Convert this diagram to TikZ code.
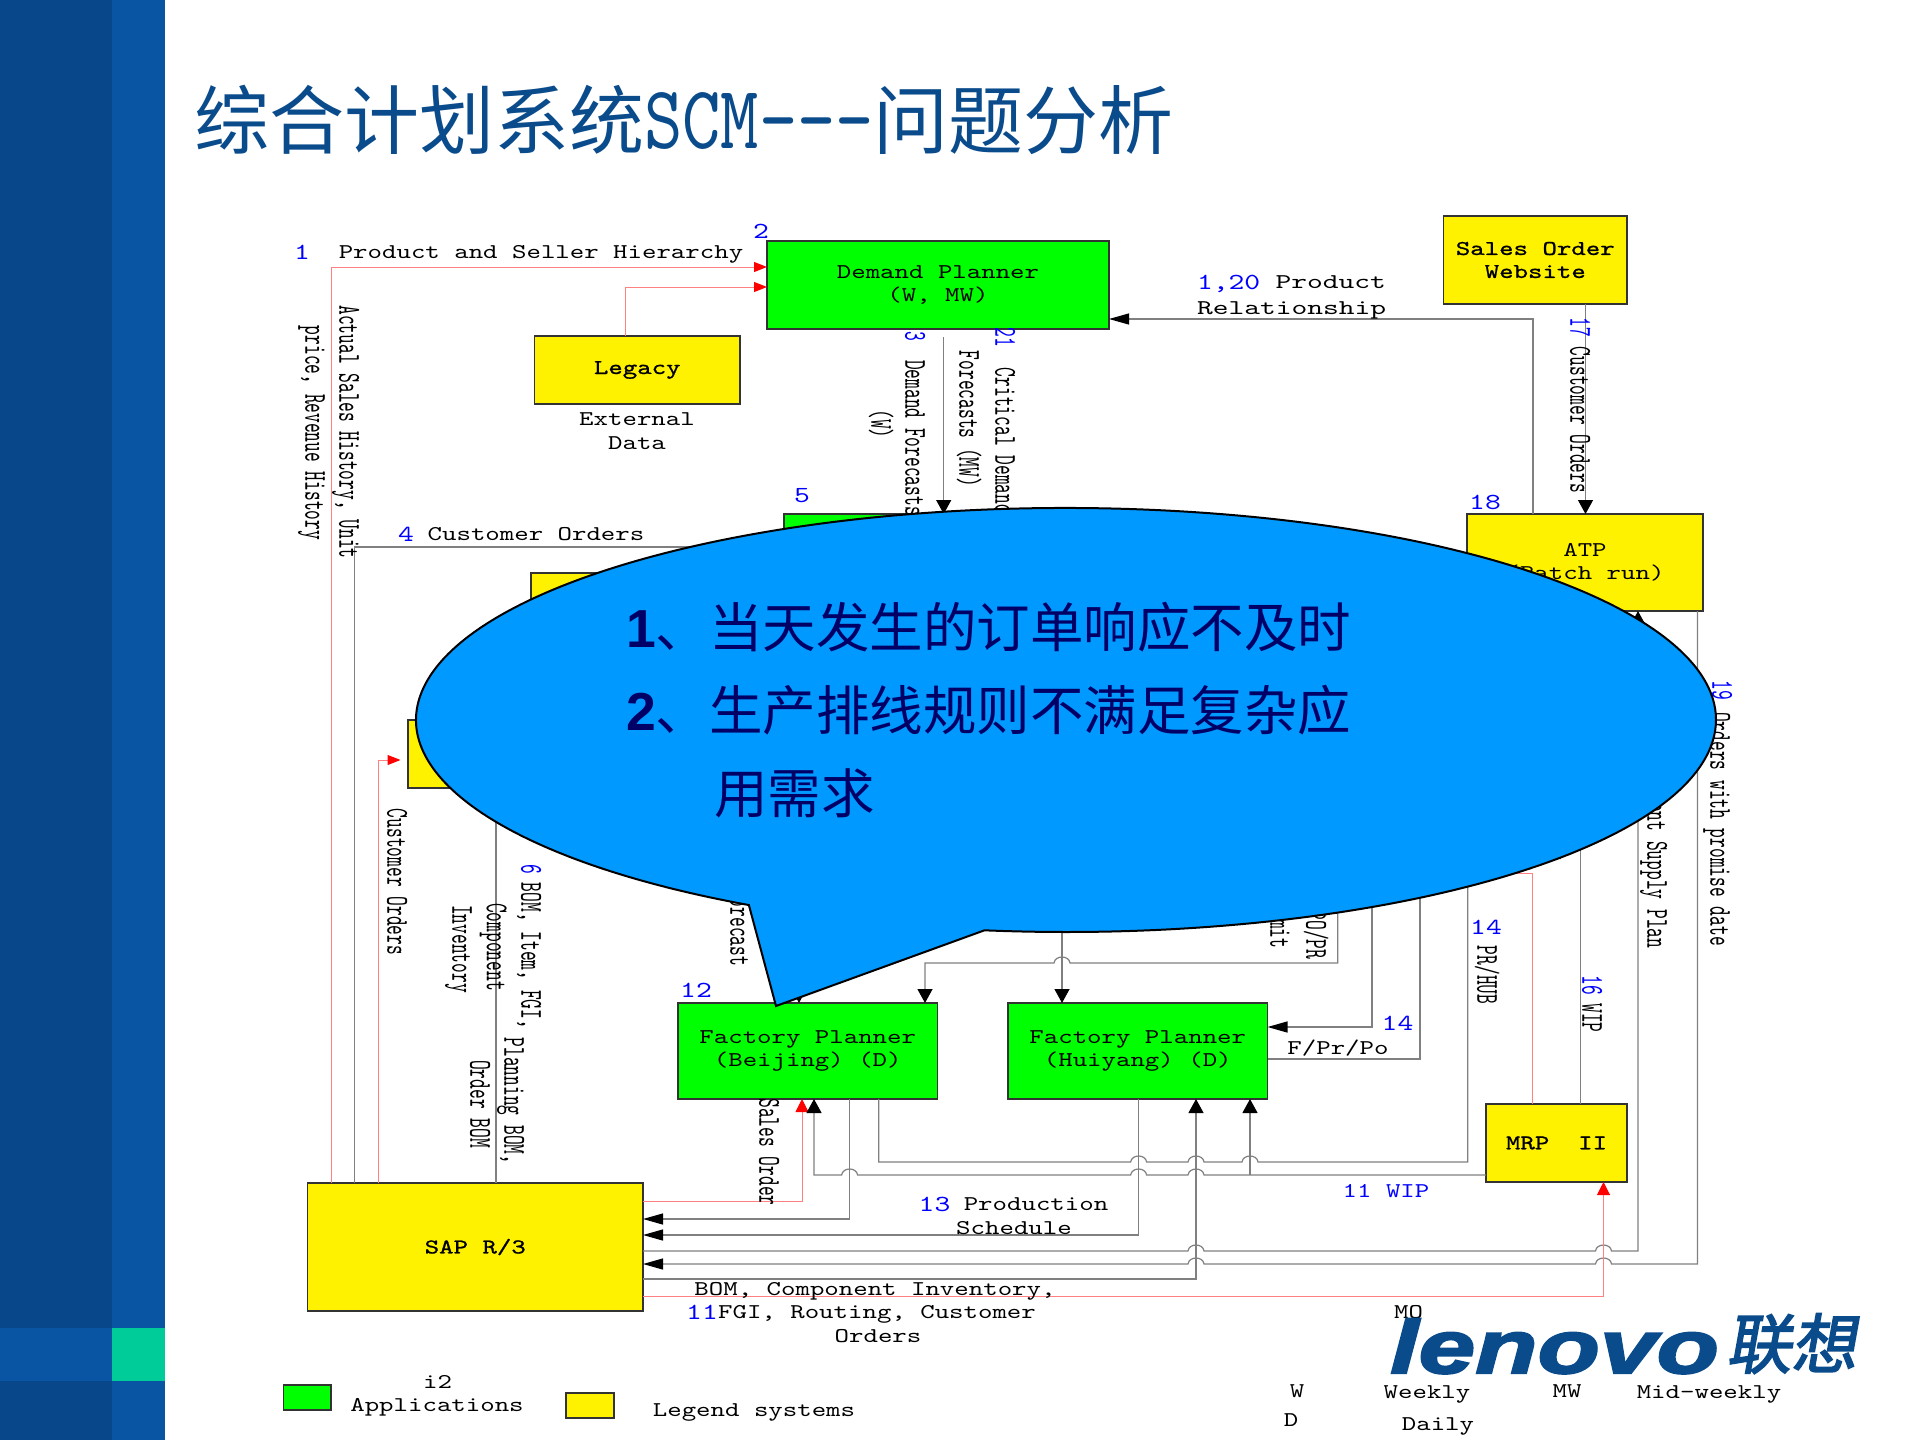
\documentclass[tikz,border=0pt]{standalone}
\usepackage{fontspec}
\usetikzlibrary{arrows.meta}
\setmainfont{Liberation Sans}
\newfontfamily\dgHf[FakeStretch=1.31]{lmmono10-regular.otf}
\newfontfamily\dgHwf[FakeStretch=1.43]{lmmono10-regular.otf}
\newfontfamily\dgHbf[FakeStretch=1.31,FakeBold=1]{lmmono10-regular.otf}
\newfontfamily\dgVf[FakeStretch=0.58]{lmmono10-regular.otf}
\newfontfamily\ttlLat[FakeStretch=0.81]{lmmono10-regular.otf}
\newfontfamily\cjkf{Noto Sans CJK SC}
\newfontfamily\logoLat[FakeStretch=1.36,FakeBold=3]{Liberation Sans Bold Italic}
\newfontfamily\logoCjk[FakeSlant=0.18,FakeBold=2.5]{Noto Sans CJK SC}
\newcommand{\fH}{\dgHf\fontsize{21}{23}\selectfont}
\newcommand{\fHw}{\dgHwf\fontsize{21}{23}\selectfont}
\newcommand{\fHb}{\dgHbf\fontsize{21}{23}\selectfont}
\newcommand{\fN}{\dgHf\fontsize{23}{25}\selectfont}
\newcommand{\fV}{\dgVf\fontsize{32}{34}\selectfont}
\definecolor{panelA}{HTML}{08488A}
\definecolor{panelB}{HTML}{0A55A3}
\definecolor{panelC}{HTML}{00CC99}
\definecolor{ttl}{HTML}{0A4B8C}
\definecolor{gln}{HTML}{808080}
\definecolor{pnk}{HTML}{FF8080}
\definecolor{bubble}{HTML}{0099FF}
\definecolor{navy}{HTML}{000066}
% jump over a crossing line, going left / going right
\newcommand{\jl}[2]{-- ({#1+8},#2) .. controls ({#1+7},{#2-8}) and ({#1-7},{#2-8}) .. ({#1-8},#2)}
\newcommand{\jr}[2]{-- ({#1-8},#2) .. controls ({#1-7},{#2-8}) and ({#1+7},{#2-8}) .. ({#1+8},#2)}
\tikzset{
  box/.style={draw=black!80,line width=1.6pt,inner sep=0pt,outer sep=0pt,align=center,font=\fH},
  gbox/.style={box,fill=green},
  ybox/.style={box,fill=yellow},
  lbl/.style={inner sep=0pt,outer sep=0pt,font=\fH,text height=13pt,text depth=0pt},
  vlbl/.style={inner sep=0pt,outer sep=0pt,font=\fV,rotate=-90,text height=19.5pt,text depth=0pt},
  num/.style={lbl,text=blue,font=\fN,text height=14pt},
  vnum/.style={vlbl,text=blue},
  gline/.style={draw=gln,line width=1.2pt},
  pline/.style={draw=pnk,line width=1pt},
  arrH/.style={-{Triangle[length=20pt,width=11pt,color=black]}},
  arrV/.style={-{Triangle[length=14pt,width=15pt,color=black]}},
  redH/.style={-{Triangle[length=13pt,width=10pt,color=red]}},
  redV/.style={-{Triangle[length=13pt,width=13pt,color=red]}},
}
\begin{document}
\begin{tikzpicture}[x=1pt,y=-1pt]
\useasboundingbox (0,0) rectangle (1920,1440);
% side panels
\fill[panelA] (0,0) rectangle (112,1440);
\fill[panelB] (112,0) rectangle (165,1440);
\fill[panelB] (0,1328) rectangle (112,1381);
\fill[panelC] (112,1328) rectangle (165,1381);
% title
\node[inner sep=0pt,anchor=base west,text=ttl] (title) at (194,148.5)
  {\cjkf\fontsize{75}{80}\selectfont 综合计划系统{\ttlLat\fontsize{90}{90}\selectfont SCM---}问题分析};
% boxes
\node[gbox,minimum width=342pt,minimum height=88pt] (dp) at (938,285) {Demand Planner\\(W,  MW)};
\node[ybox,minimum width=205.5pt,minimum height=68pt,font=\fHb] (legacy) at (637.25,370) {Legacy};
\node[ybox,minimum width=183.5pt,minimum height=88pt,font=\fHb] (so) at (1535.25,260) {Sales Order\\Website};
\node[ybox,minimum width=236pt,minimum height=97pt] (atp) at (1585,562.5) {ATP\\(Batch run)};
\node[gbox,minimum width=216pt,minimum height=86pt] (five) at (892,557) {};
\node[ybox,minimum width=169pt,minimum height=77pt] (ybtwo) at (615.5,611.5) {};
\node[ybox,minimum width=92pt,minimum height=68pt] (ybthree) at (454,754) {};
\node[gbox,minimum width=259.5pt,minimum height=96pt] (fpb) at (807.75,1051) {Factory Planner\\(Beijing)  (D)};
\node[gbox,minimum width=259.5pt,minimum height=96pt] (fph) at (1137.75,1051) {Factory Planner\\(Huiyang)  (D)};
\node[ybox,minimum width=141pt,minimum height=78pt,font=\fHb] (mrp) at (1556.5,1143) {MRP~~II};
\node[ybox,minimum width=335.5pt,minimum height=128pt,font=\fHb] (sap) at (475.25,1247) {SAP R/3};
\node[gbox,minimum width=47.5pt,minimum height=25pt] (lgg) at (307.25,1397.5) {};
\node[ybox,minimum width=48pt,minimum height=25pt] (lgy) at (590,1405.5) {};
% free ends under the callout
\coordinate (hA) at (700,547);
\coordinate (hB) at (496,820);
\coordinate (hC) at (1062,900);
\coordinate (hD) at (1337.7,900);
\coordinate (hE) at (1372,880);
\coordinate (hF) at (1420,880);
\coordinate (hG) at (1467.7,860);
\coordinate (hH) at (1490,873);
\coordinate (hI) at (1580.7,820);
\coordinate (hJ) at (799,900);
\coordinate (hK) at (1560,820);
% connectors
\draw[pline,redH] (sap.north -| 331,0) |- (dp.west |- 0,267);
\draw[pline,redH] (legacy.north -| 625,0) |- (dp.west |- 0,287);
\draw[pline,redH] (sap.north -| 378,0) |- (400.5,760);
\draw[gline] (sap.north -| 354.5,0) |- (hA);
\draw[gline] (sap.north -| 496,0) -- (hB);
\draw[gline,arrV,shorten <=8pt] (dp.south -| 943.7,0) -- (five.north -| 943.7,0);
\draw[gline,arrH] (atp.north -| 1533,0) |- (dp.east |- 0,319);
\draw[gline,arrV] (so.south -| 1585.5,0) -- (atp.north -| 1585.5,0);
\draw[gline,arrH] (atp.south -| 1697.5,0) -- (1697.5,1264) \jl{1603.5}{1264} \jl{1196}{1264} -- (sap.east |- 0,1264);
\draw[gline,arrV] (sap.east |- 0,1251) \jr{1196}{1251} \jr{1603.5}{1251} -- (1638,1251) -- (atp.south -| 1638,0);
\draw[gline,arrV] (sap.east |- 0,1279) -| (fph.south -| 1196,0);
\draw[gline,arrH] (fph.south -| 1138.6,0) |- (sap.east |- 0,1235);
\draw[gline,arrH] (fpb.south -| 849.6,0) |- (sap.east |- 0,1219);
\draw[pline,redV] (sap.east |- 0,1201) -| (fpb.south -| 802,0);
\draw[pline,redV] (sap.east |- 0,1296) -| (mrp.south -| 1603.5,0);
\draw[gline] (fpb.south -| 878.7,0) -- (878.7,1162) \jr{1138.6}{1162} \jr{1196}{1162} \jr{1250}{1162} -- (1467.7,1162) -- (hG);
\draw[gline,arrV] (mrp.west |- 0,1175) \jl{1196}{1175} \jl{1138.6}{1175} \jl{849.6}{1175} -- (814,1175) -- (fpb.south -| 814,0);
\draw[gline,arrV] (1250,1175) -- (fph.south -| 1250,0);
\draw[gline,arrV] (hC) -- (fph.north -| 1062,0);
\draw[gline,arrV] (hD) -- (1337.7,963) \jl{1062}{963} -- (925,963) -- (fpb.north -| 925,0);
\draw[gline,arrH] (hE) |- (fph.east |- 0,1027);
\draw[gline] (hF) |- (fph.east |- 0,1059);
\draw[pline] (mrp.north -| 1532.5,0) |- (hH);
\draw[gline] (mrp.north -| 1580.7,0) -- (hI);
\draw[gline,arrV] (hJ) -- (fpb.north -| 799,0);
\draw[gline,arrV] (hK) -- (1560,859.5);
% horizontal labels
\node[num] (n1) at (302,252) {1};
\node[lbl] (t1) at (541,252) {Product and Seller Hierarchy};
\node[num] (n2) at (761,231) {2};
\node[lbl] (t2a) at (637,419) {External};
\node[lbl] (t2b) at (637,443) {Data};
\node[num] (n4) at (406,534) {4};
\node[lbl] (t4) at (536,534) {Customer Orders};
\node[num] (n5) at (802,495) {5};
\node[num,anchor=west] (n120) at (1197,282) {1,20};
\node[lbl,anchor=east,font=\fHw] (t120a) at (1386,282) {Product};
\node[lbl,anchor=west,font=\fHw] (t120b) at (1197,308) {Relationship};
\node[num] (n18) at (1485,502) {18};
\node[num] (n12) at (696,990) {12};
\node[num] (n14b) at (1486,927) {14};
\node[num] (n14a) at (1397.5,1023) {14};
\node[lbl] (tfpp) at (1338,1048) {F/Pr/Po};
\node[num] (n13) at (934.5,1204) {13};
\node[lbl] (t13a) at (1036,1204) {Production};
\node[lbl] (t13b) at (1014,1228) {Schedule};
\node[lbl,text=blue] (n11w) at (1386,1191) {11 WIP};
\node[lbl] (tbom) at (875,1289) {BOM, Component Inventory,};
\node[num] (n11) at (702,1312) {11};
\node[lbl] (tfgi) at (877,1312) {FGI, Routing, Customer};
\node[lbl] (tord) at (878,1336) {Orders};
\node[lbl] (li2) at (437.5,1382) {i2};
\node[lbl] (lapp) at (437,1405) {Applications};
\node[lbl] (lleg) at (754,1410) {Legend systems};
\node[lbl] (lmo) at (1408.5,1312) {MO};
\node[lbl] (lw) at (1297,1391) {W};
\node[lbl] (lwk) at (1427,1392) {Weekly};
\node[lbl] (lmw) at (1567,1391) {MW};
\node[lbl] (lmid) at (1709,1392) {Mid-weekly};
\node[lbl] (ld) at (1291,1420) {D};
\node[lbl] (ldl) at (1438,1424) {Daily};
% rotated labels
\node[vlbl] (v1) at (349,432) {Actual Sales History, Unit};
\node[vlbl] (v2) at (315,433) {price, Revenue History};
\node[vnum] (v3n) at (915,336) {3};
\node[vlbl] (v3) at (915,438) {Demand Forecasts};
\node[vlbl] (v3w) at (881,424) {(W)};
\node[vnum] (v21n) at (1005,337) {21};
\node[vlbl] (v21) at (1005,441) {Critical Demand};
\node[vlbl] (v21b) at (969,419) {Forecasts (MW)};
\node[vnum] (v17n) at (1580,327) {17};
\node[vlbl] (v17) at (1580,420) {Customer Orders};
\node[vnum] (v19n) at (1722,690) {19};
\node[vlbl] (v19) at (1720,829) {Orders with promise date};
\node[vlbl] (vcsp) at (1657,846) {Component Supply Plan};
\node[vlbl] (vpr) at (1487,975) {PR/HUB};
\node[vnum] (v16n) at (1592,985) {16};
\node[vlbl] (vwip) at (1592,1018) {WIP};
\node[vlbl] (vpo) at (1316,935) {PO/PR};
\node[vlbl] (vmit) at (1280,919) {Commit};
\node[vlbl] (vco) at (397,882) {Customer Orders};
\node[vnum] (v6n) at (531,869) {6};
\node[vlbl] (v6) at (531,956) {BOM, Item, FGI,};
\node[vlbl] (v6b) at (514,1101) {Planning BOM,};
\node[vlbl] (v6c) at (496.5,947) {Component};
\node[vlbl] (v6d) at (462,949) {Inventory};
\node[vlbl] (v6e) at (480,1104) {Order BOM};
\node[vlbl] (vfc) at (740,927) {Forecast};
\node[vlbl] (vso) at (769,1152) {Sales Order};
% logo
\node[inner sep=0pt,anchor=base west,text=ttl] (logoa) at (1390,1373) {\logoLat\fontsize{75}{75}\selectfont lenovo};
\node[inner sep=0pt,anchor=base west,text=ttl] (logob) at (1726,1368) {\logoCjk\fontsize{65}{65}\selectfont 联想};
% callout
\filldraw[fill=bubble,draw=black,line width=2pt,line join=miter]
  (984.5,930.3) arc[start angle=97.2,end angle=-240.8,x radius=650,y radius=212]
  -- (776,1006) -- cycle;
\node[inner sep=0pt,anchor=base west,text=navy] (c1) at (626,647)
  {\fontsize{53.5}{60}\bfseries 1\cjkf\mdseries\fontsize{53.5}{60}\selectfont 、当天发生的订单响应不及时};
\node[inner sep=0pt,anchor=base west,text=navy] (c2) at (626,730)
  {\fontsize{53.5}{60}\bfseries 2\cjkf\mdseries\fontsize{53.5}{60}\selectfont 、生产排线规则不满足复杂应};
\node[inner sep=0pt,anchor=base west,text=navy] (c3) at (714,813)
  {\cjkf\fontsize{53.5}{60}\selectfont 用需求};
\end{tikzpicture}
\end{document}
